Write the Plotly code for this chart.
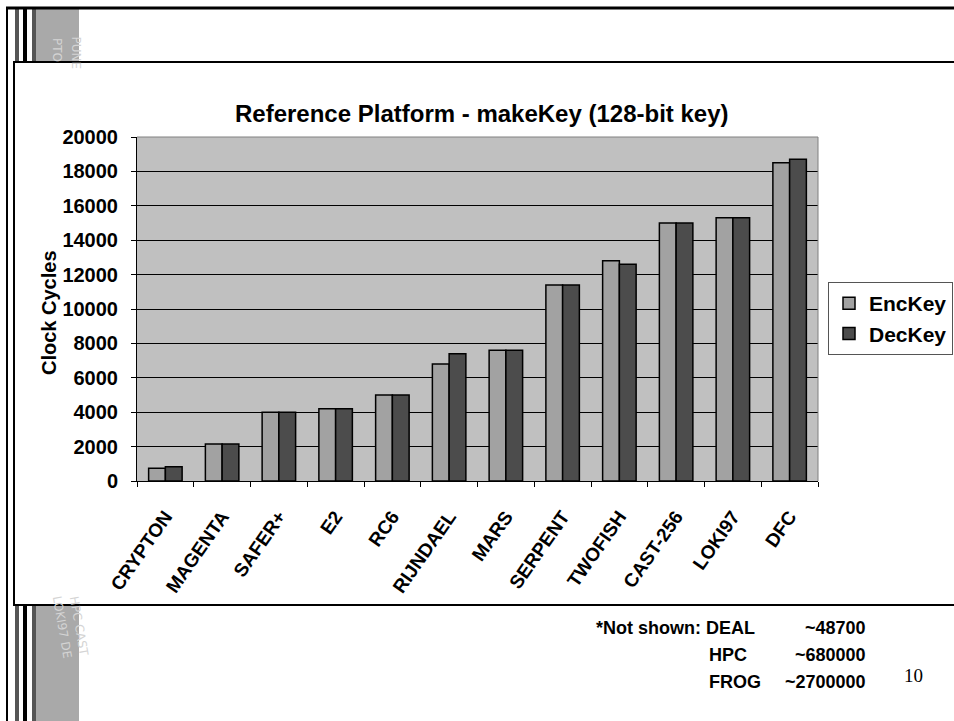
import plotly.graph_objects as go

W, H = 954, 721

ciphers = ["CRYPTON", "MAGENTA", "SAFER+", "E2", "RC6", "RIJNDAEL", "MARS",
           "SERPENT", "TWOFISH", "CAST-256", "LOKI97", "DFC"]
enc_key = [740, 2150, 4000, 4200, 5000, 6800, 7600, 11400, 12800, 15000, 15300, 18500]
dec_key = [830, 2150, 4000, 4200, 5000, 7400, 7600, 11400, 12600, 15000, 15300, 18700]

not_shown_names = ["DEAL", "HPC", "FROG"]
not_shown_values = ["~48700", "~680000", "~2700000"]

y_ticks = list(range(0, 20001, 2000))

FONT = "Liberation Sans, Arial, sans-serif"


def px(x):
    return x / W


def py(y):
    return 1 - y / H


fig = go.Figure()
fig.add_trace(go.Bar(name="EncKey", x=ciphers, y=enc_key,
                     marker=dict(color="#A2A2A2", line=dict(color="#000", width=1.5))))
fig.add_trace(go.Bar(name="DecKey", x=ciphers, y=dec_key,
                     marker=dict(color="#4C4C4C", line=dict(color="#000", width=1.5))))

shapes = []


def line(x0, y0, x1, y1, color="#000", width=2):
    shapes.append(dict(type="line", xref="paper", yref="paper",
                       x0=px(x0), y0=py(y0), x1=px(x1), y1=py(y1),
                       line=dict(color=color, width=width), layer="above"))


def rect(x0, y0, x1, y1, fill):
    shapes.append(dict(type="rect", xref="paper", yref="paper",
                       x0=px(x0), y0=py(y0), x1=px(x1), y1=py(y1),
                       fillcolor=fill, line=dict(width=0), layer="below"))


# slide frame: top rule, left rule, striped bands and textured patches
line(6, 8, 954, 8, width=3)
line(7, 8, 7, 721, width=2)
for (top, bot) in [(8, 62), (605, 721)]:
    rect(15, top, 19, bot, "#555555")
    rect(23, top, 27, bot, "#000000")
    rect(32, top, 36, bot, "#555555")
    rect(36, top, 79, bot, "#A9A9A9")

# white content box
shapes.append(dict(type="rect", xref="paper", yref="paper",
                   x0=px(14), y0=py(605), x1=px(956), y1=py(62),
                   fillcolor="rgba(0,0,0,0)", line=dict(color="#000", width=2), layer="above"))

# gray border on top/right of plot area
shapes.append(dict(type="line", xref="x domain", yref="y domain", x0=0, y0=1, x1=1, y1=1,
                   line=dict(color="#808080", width=1), layer="above"))
shapes.append(dict(type="line", xref="x domain", yref="y domain", x0=1, y0=0, x1=1, y1=1,
                   line=dict(color="#808080", width=1), layer="above"))

annotations = [
    dict(text="<b>Reference Platform - makeKey (128-bit key)</b>", x=px(482), y=py(98),
         xref="paper", yref="paper", showarrow=False, font=dict(size=24, color="#000", family=FONT)),
    dict(text="<b>Clock Cycles</b>", x=px(36), y=py(313), xref="paper", yref="paper",
         showarrow=False, textangle=-90, font=dict(size=20, color="#000", family=FONT)),
    dict(text="<b>*Not shown: " + not_shown_names[0] + "</b>", x=px(757), y=py(640),
         xref="paper", yref="paper", xanchor="right", showarrow=False,
         font=dict(size=18, color="#000", family=FONT)),
    dict(text="10", x=px(925), y=py(688), xref="paper", yref="paper", showarrow=False,
         font=dict(size=19, color="#000", family="Liberation Serif, Times New Roman, serif")),
]
rows_y = [640, 667, 694]
for i, (name, val) in enumerate(zip(not_shown_names, not_shown_values)):
    if i > 0:
        annotations.append(dict(text="<b>" + name + "</b>", x=px(707), y=py(rows_y[i]),
                                xref="paper", yref="paper", xanchor="left", showarrow=False,
                                font=dict(size=18, color="#000", family=FONT)))
    annotations.append(dict(text="<b>" + val + "</b>", x=px(868), y=py(rows_y[i]),
                            xref="paper", yref="paper", xanchor="right", showarrow=False,
                            font=dict(size=18, color="#000", family=FONT)))

# faint scribbles in the textured patches
for (txt, x, y, ang) in [("PUNE", 66, 34, 90), ("PTO", 48, 36, 90),
                         ("HPC CAST", 64, 660, 80), ("LOKI97 DE", 47, 662, 80)]:
    annotations.append(dict(text=txt, x=px(x), y=py(y), xref="paper", yref="paper",
                            showarrow=False, textangle=ang,
                            font=dict(size=12, color="#D4D4D4", family="DejaVu Sans")))

fig.update_layout(
    width=W, height=H,
    margin=dict(l=0, r=0, t=0, b=0, autoexpand=False),
    paper_bgcolor="#FFFFFF",
    plot_bgcolor="#C0C0C0",
    barmode="group",
    bargap=0.41,
    bargroupgap=0,
    font=dict(family=FONT, color="#000"),
    showlegend=True,
    legend=dict(x=px(953), y=py(282), xanchor="right", yanchor="top",
                bgcolor="#FFFFFF", bordercolor="#555555", borderwidth=1,
                font=dict(size=21, family=FONT, color="#000", weight="bold"),
                tracegroupgap=4),
    xaxis=dict(domain=[px(137), px(818)], showgrid=False, showline=True, automargin=False,
               linecolor="#000", linewidth=1, ticks="outside", tickson="boundaries",
               ticklen=5, tickcolor="#000", tickangle=-55, ticklabelstandoff=16,
               tickfont=dict(size=19, family=FONT, color="#000", weight="bold")),
    yaxis=dict(domain=[py(481), py(137)], range=[0, 20000], tickvals=y_ticks,
               tickformat="d", automargin=False, ticklabelstandoff=9,
               showgrid=True, gridcolor="#000", gridwidth=1, showline=True,
               linecolor="#000", linewidth=1, ticks="outside", ticklen=5,
               tickcolor="#000", zeroline=False,
               tickfont=dict(size=20, family=FONT, color="#000", weight="bold")),
    shapes=shapes,
    annotations=annotations,
)

fig.write_html("out.html")
